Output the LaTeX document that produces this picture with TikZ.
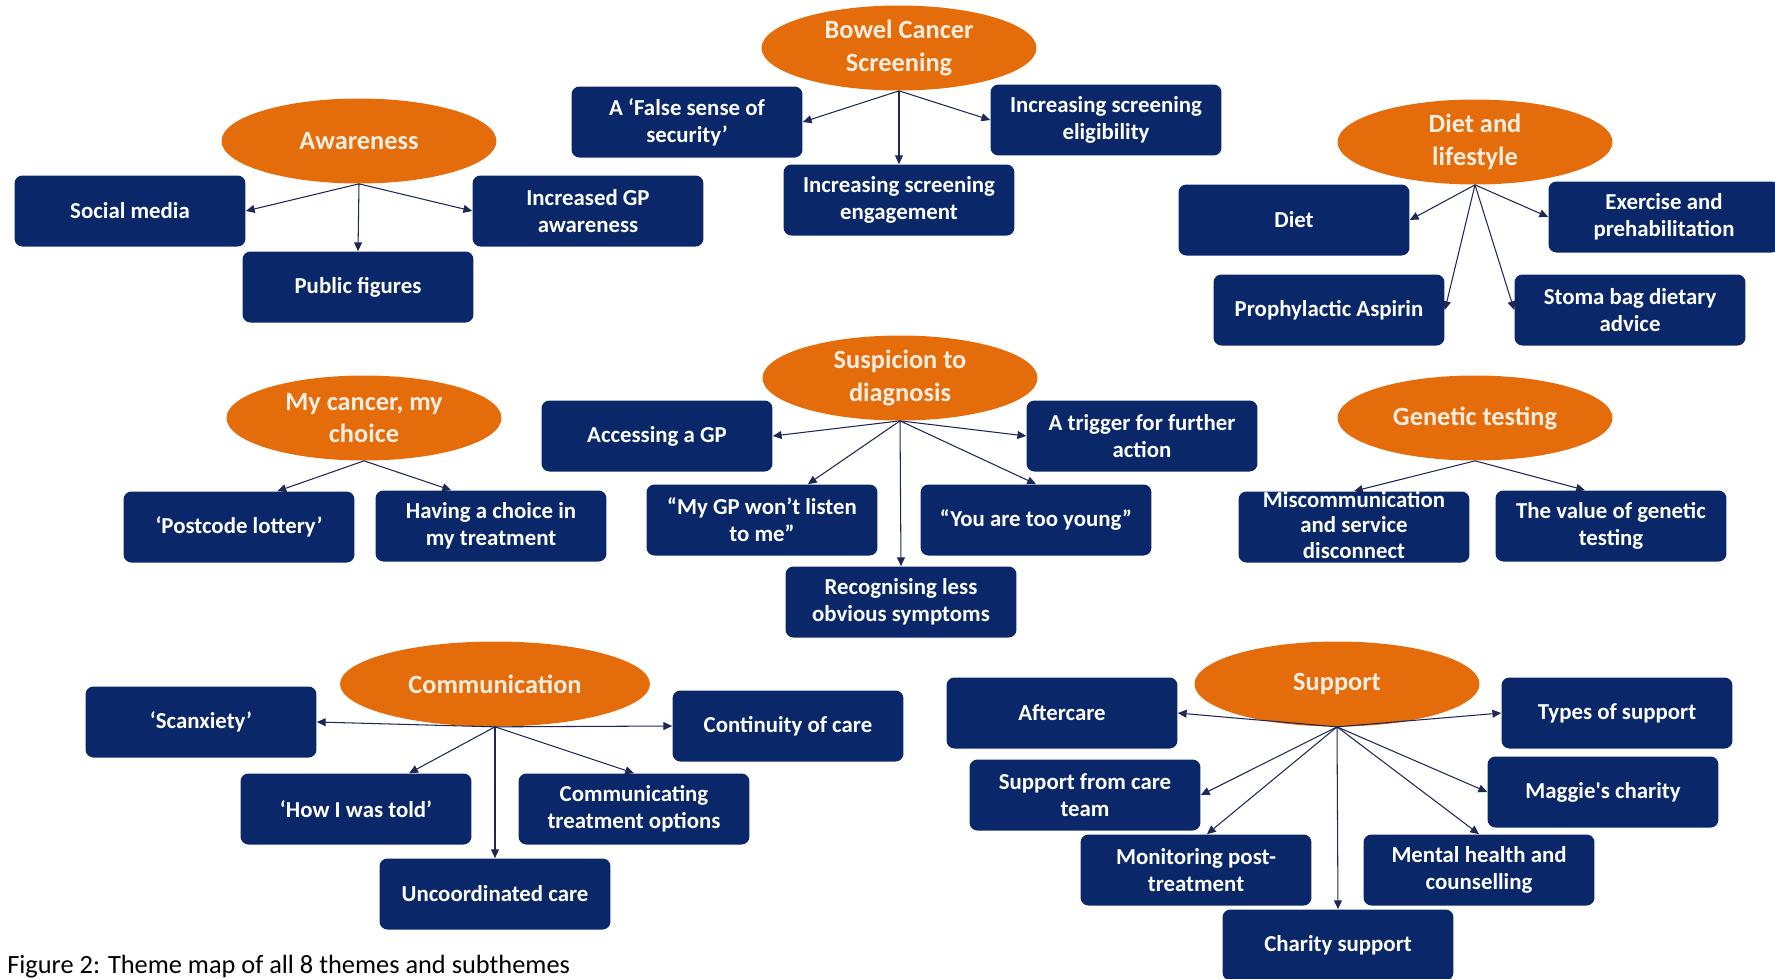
\documentclass[tikz,border=0pt]{standalone}
\usepackage{fontspec}
\setmainfont{Carlito}
\usetikzlibrary{positioning, arrows.meta, shapes.geometric}
\definecolor{themeorange}{RGB}{228,108,10}
\definecolor{subnavy}{RGB}{10,40,105}
\definecolor{linknavy}{RGB}{30,40,85}
\definecolor{themetext}{RGB}{253,238,225}

\begin{document}
\begin{tikzpicture}[x=0.02cm, y=-0.02cm,
    theme/.style={ellipse, fill=themeorange, text=themetext, inner sep=0pt,
        minimum width=5.5cm, minimum height=1.7cm, align=center,
        font=\bfseries\fontsize{15}{18.5}\selectfont},
    subtheme/.style={rectangle, rounded corners=4.5pt, fill=subnavy, text=white,
        minimum width=4.62cm, minimum height=1.42cm, inner sep=2pt, align=center,
        font=\bfseries\fontsize{13}{15.5}\selectfont},
    link/.style={-{Triangle[length=5pt,width=4.5pt]}, line width=0.6pt, draw=linknavy}]
    \useasboundingbox (0,0) rectangle (1775,978);

    % Awareness
    \node[theme] (aware) at (359,141) {Awareness};
    \node[subtheme] (social) at (130,211) {Social media};
    \node[subtheme] (gp) at (588,211) {Increased GP\\awareness};
    \node[subtheme] (public) at (358,287) {Public figures};
    \foreach \t in {social.east, gp.west, public.north}{\draw[link] (aware.south) -- (\t);}

    % Bowel cancer screening
    \node[theme] (bowel) at (899,48) {Bowel Cancer\\Screening};
    \node[subtheme] (falsesense) at (687,122) {A ‘False sense of\\security’};
    \node[subtheme] (eligible) at (1106,120) {Increasing screening\\eligibility};
    \node[subtheme] (engage) at (899,200) {Increasing screening\\engagement};
    \foreach \t in {falsesense.east, eligible.west, engage.north}{\draw[link] (bowel.south) -- (\t);}

    % Diet and lifestyle
    \node[theme] (diet) at (1475,142) {Diet and\\lifestyle};
    \node[subtheme] (dietbox) at (1294,220) {Diet};
    \node[subtheme] (exercise) at (1664,217) {Exercise and\\prehabilitation};
    \node[subtheme] (aspirin) at (1329,310) {Prophylactic Aspirin};
    \node[subtheme] (stoma) at (1630,310) {Stoma bag dietary\\advice};
    \foreach \t in {dietbox.east, exercise.west, aspirin.east, stoma.west}{\draw[link] (diet.south) -- (\t);}

    % My cancer, my choice
    \node[theme] (choice) at (364,418) {My cancer, my\\choice};
    \node[subtheme] (postcode) at (239,527) {‘Postcode lottery’};
    \node[subtheme] (having) at (491,526) {Having a choice in\\my treatment};
    \foreach \t in {postcode.43, having.138}{\draw[link] (choice.south) -- (\t);}

    % Suspicion to diagnosis
    \node[theme] (suspicion) at (900,378) {Suspicion to\\diagnosis};
    \node[subtheme] (access) at (657,436) {Accessing a GP};
    \node[subtheme] (trigger) at (1142,436) {A trigger for further\\action};
    \node[subtheme] (listen) at (762,520) {“My GP won’t listen\\to me”};
    \node[subtheme] (young) at (1036,520) {“You are too young”};
    \node[subtheme] (symptoms) at (901,602) {Recognising less\\obvious symptoms};
    \foreach \t in {access.east, trigger.west, listen.38, young.north, symptoms.north}{\draw[link] (suspicion.south) -- (\t);}

    % Genetic testing
    \node[theme] (genetic) at (1475,418) {Genetic testing};
    \node[subtheme] (miscomm) at (1354,527) {\raisebox{-7pt}{\smash{\fontsize{13}{14.5}\selectfont\begin{tabular}{@{}c@{}}Miscommunication\\and service\\disconnect\end{tabular}}}};
    \node[subtheme] (value) at (1611,526) {The value of genetic\\testing};
    \foreach \t in {miscomm.north, value.126}{\draw[link] (genetic.south) -- (\t);}

    % Communication
    \node[theme, minimum width=6.2cm] (comm) at (495,684) {Communication};
    \node[subtheme] (scan) at (201,722) {‘Scanxiety’};
    \node[subtheme] (continuity) at (788,726) {Continuity of care};
    \node[subtheme] (told) at (356,809) {‘How I was told’};
    \node[subtheme] (options) at (634,809) {Communicating\\treatment options};
    \node[subtheme] (uncoord) at (495,894) {Uncoordinated care};
    \foreach \t in {scan.east, continuity.west, told.34, options.north, uncoord.north}{\draw[link] (comm.south) -- (\t);}

    % Support
    \node[theme, minimum width=5.7cm] (support) at (1337,684) {Support};
    \node[subtheme] (aftercare) at (1062,713) {Aftercare};
    \node[subtheme] (types) at (1617,713) {Types of support};
    \node[subtheme] (careteam) at (1085,795) {Support from care\\team};
    \node[subtheme] (maggie) at (1603,792) {Maggie\textquotesingle s charity};
    \node[subtheme] (monitor) at (1196,870) {Monitoring post-\\treatment};
    \node[subtheme] (mental) at (1479,870) {Mental health and\\counselling};
    \node[subtheme] (charity) at (1338,945) {Charity support};
    \foreach \t in {aftercare.east, types.west, careteam.east, maggie.west, monitor.73, mental.north, charity.north}{\draw[link] (support.south) -- (\t);}

    \node[anchor=west, inner sep=0pt, font=\fontsize{15}{18}\selectfont] (caption) at (7,967) {Figure 2: Theme map of all 8 themes and subthemes};
\end{tikzpicture}
\end{document}
